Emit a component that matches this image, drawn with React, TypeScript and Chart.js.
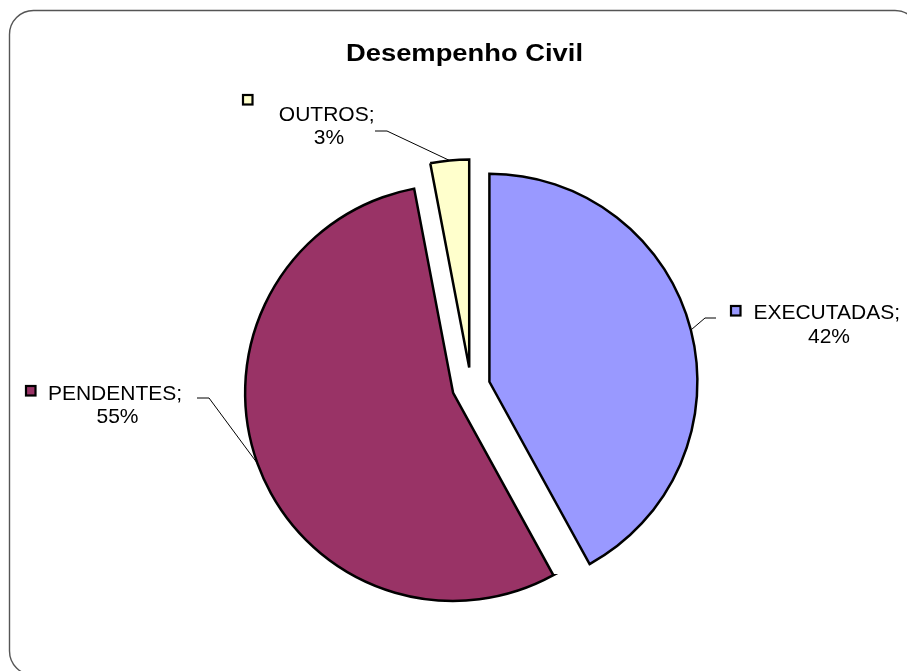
import React, { useEffect, useRef } from "react";
import { Chart, registerables } from "chart.js";

Chart.register(...registerables);

// ---- data ----
const CATEGORIES = ["EXECUTADAS", "PENDENTES", "OUTROS"];
const VALUES = [42, 55, 3];
const COLORS = ["#9999FF", "#993366", "#FFFFCC"];
const TITLE = "Desempenho Civil";

// ---- styling / layout ----
const EXPLODE = [19, 19, 19]; // px each slice is pulled out
const PIE_RADIUS = 208;
const TITLE_POS = [464.5, 61];
const TITLE_WIDTH = 237;
const LABEL_LAYOUT = [
  { key: [730, 305], l1: [826.7, 319], l2: [829, 343], elbow: [705, 318], end: [716, 318] },
  { key: [25, 385], l1: [115, 399.5], l2: [117.5, 423], elbow: [209, 398], end: [197, 398] },
  { key: [242, 94], l1: [326.7, 120.5], l2: [329, 144], elbow: [387, 131], end: [375, 131] },
];
const FONT = "'Liberation Sans', Arial, Helvetica, sans-serif";

const explodePlugin = {
  id: "explodeSlices",
  afterDatasetsUpdate(chart: any) {
    const meta = chart.getDatasetMeta(0);
    meta.data.forEach((el: any, i: number) => {
      const mid = (el.startAngle + el.endAngle) / 2;
      el.x += EXPLODE[i] * Math.cos(mid);
      el.y += EXPLODE[i] * Math.sin(mid);
    });
  },
};

const framePlugin = {
  id: "frame",
  beforeDraw(chart: any) {
    const ctx = chart.ctx as CanvasRenderingContext2D;
    ctx.save();
    ctx.fillStyle = "#ffffff";
    ctx.fillRect(0, 0, chart.width, chart.height);
    const x = 9.5, y = 10.5, w = 909.5, h = 664.5, r = 24;
    ctx.beginPath();
    ctx.moveTo(x + r, y);
    ctx.lineTo(x + w - r, y);
    ctx.arcTo(x + w, y, x + w, y + r, r);
    ctx.lineTo(x + w, y + h - r);
    ctx.arcTo(x + w, y + h, x + w - r, y + h, r);
    ctx.lineTo(x + r, y + h);
    ctx.arcTo(x, y + h, x, y + h - r, r);
    ctx.lineTo(x, y + r);
    ctx.arcTo(x, y, x + r, y, r);
    ctx.closePath();
    ctx.strokeStyle = "#555555";
    ctx.lineWidth = 1.4;
    ctx.stroke();
    ctx.restore();
  },
};

const labelPlugin = {
  id: "sliceLabels",
  afterDraw(chart: any) {
    const ctx = chart.ctx as CanvasRenderingContext2D;
    const meta = chart.getDatasetMeta(0);
    const total = VALUES.reduce((a, b) => a + b, 0);
    ctx.save();

    // title
    ctx.font = `bold 23px ${FONT}`;
    const tw = ctx.measureText(TITLE).width;
    ctx.save();
    ctx.translate(TITLE_POS[0], TITLE_POS[1]);
    ctx.scale(TITLE_WIDTH / tw, 1);
    ctx.textAlign = "center";
    ctx.textBaseline = "alphabetic";
    ctx.fillStyle = "#000000";
    ctx.fillText(TITLE, 0, 0);
    ctx.restore();

    meta.data.forEach((el: any, i: number) => {
      const L = LABEL_LAYOUT[i];
      const mid = (el.startAngle + el.endAngle) / 2;
      const r = el.outerRadius;
      const ax = el.x + r * Math.cos(mid);
      const ay = el.y + r * Math.sin(mid);

      // leader line
      ctx.beginPath();
      ctx.moveTo(L.end[0], L.end[1]);
      ctx.lineTo(L.elbow[0], L.elbow[1]);
      ctx.lineTo(ax, ay);
      ctx.strokeStyle = "#000000";
      ctx.lineWidth = 1;
      ctx.stroke();

      // legend key
      ctx.fillStyle = COLORS[i];
      ctx.fillRect(L.key[0] + 1, L.key[1] + 1, 9.5, 9.5);
      ctx.lineWidth = 2.2;
      ctx.strokeStyle = "#000000";
      ctx.strokeRect(L.key[0] + 1, L.key[1] + 1, 9.5, 9.5);

      // text
      ctx.font = `21px ${FONT}`;
      ctx.textAlign = "center";
      ctx.textBaseline = "alphabetic";
      ctx.fillStyle = "#000000";
      ctx.fillText(CATEGORIES[i] + ";", L.l1[0], L.l1[1]);
      ctx.fillText(Math.round((VALUES[i] / total) * 100) + "%", L.l2[0], L.l2[1]);
    });

    ctx.restore();
  },
};

export default function App() {
  const canvasRef = useRef<HTMLCanvasElement | null>(null);

  useEffect(() => {
    if (!canvasRef.current) return;
    const chart = new Chart(canvasRef.current, {
      type: "pie",
      data: {
        labels: CATEGORIES,
        datasets: [
          {
            data: VALUES,
            backgroundColor: COLORS,
            borderColor: "#000000",
            borderWidth: 2.5,
            borderJoinStyle: "miter",
          } as any,
        ],
      },
      options: {
        responsive: false,
        devicePixelRatio: 1,
        animation: false,
        events: [],
        radius: PIE_RADIUS,
        rotation: 0,
        layout: { padding: { left: 80, right: 45, top: 140, bottom: 38 } },
        plugins: {
          legend: { display: false },
          title: { display: false },
          tooltip: { enabled: false },
        },
      } as any,
      plugins: [framePlugin, explodePlugin, labelPlugin],
    });
    return () => chart.destroy();
  }, []);

  return (
    <div style={{ position: "absolute", left: 0, top: 0, width: 907, height: 671 }}>
      <canvas ref={canvasRef} width={907} height={671} style={{ display: "block" }} />
    </div>
  );
}
